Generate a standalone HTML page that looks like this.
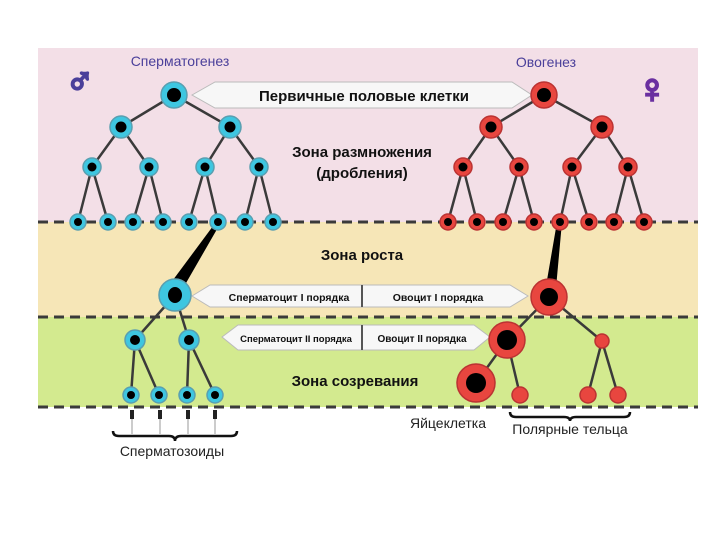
<!DOCTYPE html>
<html><head><meta charset="utf-8"><style>
html,body{margin:0;padding:0;background:#fff;width:720px;height:540px;overflow:hidden}
svg text{font-family:"Liberation Sans",sans-serif}
</style></head><body>
<svg width="720" height="540" viewBox="0 0 720 540" xmlns="http://www.w3.org/2000/svg">
<rect x="38" y="48" width="660" height="174" fill="#f3dfe7"/>
<rect x="38" y="222" width="660" height="95" fill="#f6e6b7"/>
<rect x="38" y="317" width="660" height="90" fill="#d3ea8f"/>
<g stroke="#3a3a3a" stroke-width="3" stroke-dasharray="10,6">
<line x1="38" y1="222" x2="698" y2="222"/><line x1="38" y1="317" x2="698" y2="317"/><line x1="38" y1="407" x2="698" y2="407"/>
</g>
<g stroke="#3a3a3a" stroke-width="2.5">
<path d="M174 95L121 127M174 95L230 127M121 127L92 167M121 127L149 167M230 127L205 167M230 127L259 167"/>
<path d="M92 167L78 222M92 167L108 222M149 167L133 222M149 167L163 222M205 167L189 222M205 167L218 222M259 167L245 222M259 167L273 222"/>
<path d="M175 295L135 340M175 295L189 340M135 340L131 395M135 340L159 395M189 340L187 395M189 340L215 395"/>
<path d="M544 95L491 127M544 95L602 127M491 127L463 167M491 127L519 167M602 127L572 167M602 127L628 167"/>
<path d="M463 167L448 222M463 167L477 222M519 167L503 222M519 167L534 222M572 167L560 222M572 167L589 222M628 167L614 222M628 167L644 222"/>
<path d="M549 297L507 340M549 297L602 341M507 340L476 383M507 340L520 395M602 341L588 395M602 341L618 395"/>
</g>
<polygon points="216,222 220,224 182,290 170,284" fill="#000"/>
<polygon points="557,222 562,222 556,288 546,286" fill="#000"/>
<g fill="#f7f7f7" stroke="#bbb" stroke-width="1">
<polygon points="192,95 215,82 512,82 532,95 512,108 215,108"/>
<polygon points="192,296 210,285 510,285 528,296 510,307 210,307"/>
<polygon points="222,337 238,325 474,325 490,337 474,350 238,350"/>
</g>
<line x1="362" y1="285" x2="362" y2="307" stroke="#555" stroke-width="2"/>
<line x1="362" y1="325" x2="362" y2="350" stroke="#555" stroke-width="2"/>
<g font-weight="bold" fill="#111" text-anchor="middle">
<text x="364" y="101" font-size="15">Первичные половые клетки</text>
<text x="362" y="157" font-size="15">Зона размножения</text>
<text x="362" y="178" font-size="15">(дробления)</text>
<text x="362" y="260" font-size="15">Зона роста</text>
<text x="355" y="386" font-size="15">Зона созревания</text>
<text x="289" y="301" font-size="10.5">Сперматоцит I порядка</text>
<text x="438" y="301" font-size="10.5">Овоцит I порядка</text>
<text x="296" y="342" font-size="9.5">Сперматоцит II порядка</text>
<text x="422" y="342" font-size="10">Овоцит II порядка</text>
</g>
<g fill="#4a3f9a" font-size="14" text-anchor="middle">
<text x="180" y="66">Сперматогенез</text>
<text x="546" y="67">Овогенез</text>
</g>
<text x="80" y="94" font-size="38" fill="#4a3f9a" stroke="#4a3f9a" stroke-width="2.5" text-anchor="middle">♂</text>
<text x="652" y="102" font-size="40" fill="#6a2fa0" stroke="#6a2fa0" stroke-width="2.5" text-anchor="middle">♀</text>
<g fill="#3ec6e0" stroke="#5a9fb0" stroke-width="1.5">
<circle cx="174" cy="95" r="13"/><circle cx="121" cy="127" r="11"/><circle cx="230" cy="127" r="11"/>
<circle cx="92" cy="167" r="9"/><circle cx="149" cy="167" r="9"/><circle cx="205" cy="167" r="9"/><circle cx="259" cy="167" r="9"/>
<circle cx="78" cy="222" r="8"/><circle cx="108" cy="222" r="8"/><circle cx="133" cy="222" r="8"/><circle cx="163" cy="222" r="8"/><circle cx="189" cy="222" r="8"/><circle cx="218" cy="222" r="8"/><circle cx="245" cy="222" r="8"/><circle cx="273" cy="222" r="8"/>
<circle cx="175" cy="295" r="16"/><circle cx="135" cy="340" r="10"/><circle cx="189" cy="340" r="10"/>
<circle cx="131" cy="395" r="8"/><circle cx="159" cy="395" r="8"/><circle cx="187" cy="395" r="8"/><circle cx="215" cy="395" r="8"/>
</g>
<g fill="#e8463f" stroke="#b33" stroke-width="1.5">
<circle cx="544" cy="95" r="13"/><circle cx="491" cy="127" r="11"/><circle cx="602" cy="127" r="11"/>
<circle cx="463" cy="167" r="9"/><circle cx="519" cy="167" r="9"/><circle cx="572" cy="167" r="9"/><circle cx="628" cy="167" r="9"/>
<circle cx="448" cy="222" r="8"/><circle cx="477" cy="222" r="8"/><circle cx="503" cy="222" r="8"/><circle cx="534" cy="222" r="8"/><circle cx="560" cy="222" r="8"/><circle cx="589" cy="222" r="8"/><circle cx="614" cy="222" r="8"/><circle cx="644" cy="222" r="8"/>
<circle cx="549" cy="297" r="18"/><circle cx="507" cy="340" r="18"/><circle cx="476" cy="383" r="19"/>
<circle cx="602" cy="341" r="7"/><circle cx="520" cy="395" r="8"/><circle cx="588" cy="395" r="8"/><circle cx="618" cy="395" r="8"/>
</g>
<g fill="#000">
<circle cx="174" cy="95" r="7"/><circle cx="121" cy="127" r="5.5"/><circle cx="230" cy="127" r="5.5"/>
<circle cx="92" cy="167" r="4.5"/><circle cx="149" cy="167" r="4.5"/><circle cx="205" cy="167" r="4.5"/><circle cx="259" cy="167" r="4.5"/>
<circle cx="78" cy="222" r="4"/><circle cx="108" cy="222" r="4"/><circle cx="133" cy="222" r="4"/><circle cx="163" cy="222" r="4"/><circle cx="189" cy="222" r="4"/><circle cx="218" cy="222" r="4"/><circle cx="245" cy="222" r="4"/><circle cx="273" cy="222" r="4"/>
<ellipse cx="175" cy="295" rx="7" ry="8"/><circle cx="135" cy="340" r="5"/><circle cx="189" cy="340" r="5"/>
<circle cx="131" cy="395" r="4"/><circle cx="159" cy="395" r="4"/><circle cx="187" cy="395" r="4"/><circle cx="215" cy="395" r="4"/>
<circle cx="544" cy="95" r="7"/><circle cx="491" cy="127" r="5.5"/><circle cx="602" cy="127" r="5.5"/>
<circle cx="463" cy="167" r="4.5"/><circle cx="519" cy="167" r="4.5"/><circle cx="572" cy="167" r="4.5"/><circle cx="628" cy="167" r="4.5"/>
<circle cx="448" cy="222" r="4"/><circle cx="477" cy="222" r="4"/><circle cx="503" cy="222" r="4"/><circle cx="534" cy="222" r="4"/><circle cx="560" cy="222" r="4"/><circle cx="589" cy="222" r="4"/><circle cx="614" cy="222" r="4"/><circle cx="644" cy="222" r="4"/>
<circle cx="549" cy="297" r="9"/><circle cx="507" cy="340" r="10"/><circle cx="476" cy="383" r="10"/>
</g>
<g stroke="#999" stroke-width="1">
<path d="M132 410v24M160 410v24M188 410v24M215 410v24"/>
</g>
<g fill="#222"><rect x="130" y="410" width="4" height="9"/><rect x="158" y="410" width="4" height="9"/><rect x="186" y="410" width="4" height="9"/><rect x="213" y="410" width="4" height="9"/></g>
<path d="M113 431q0 5 6 5h50q6 0 6 5q0-5 6-5h50q6 0 6-5" fill="none" stroke="#111" stroke-width="2.5"/>
<path d="M510 412q0 5 6 5h48q6 0 6 4q0-4 6-4h48q6 0 6-5" fill="none" stroke="#111" stroke-width="2.5"/>
<g fill="#222" font-size="14" text-anchor="middle">
<text x="172" y="456">Сперматозоиды</text>
<text x="448" y="428">Яйцеклетка</text>
<text x="570" y="434">Полярные тельца</text>
</g>
</svg>
</body></html>
